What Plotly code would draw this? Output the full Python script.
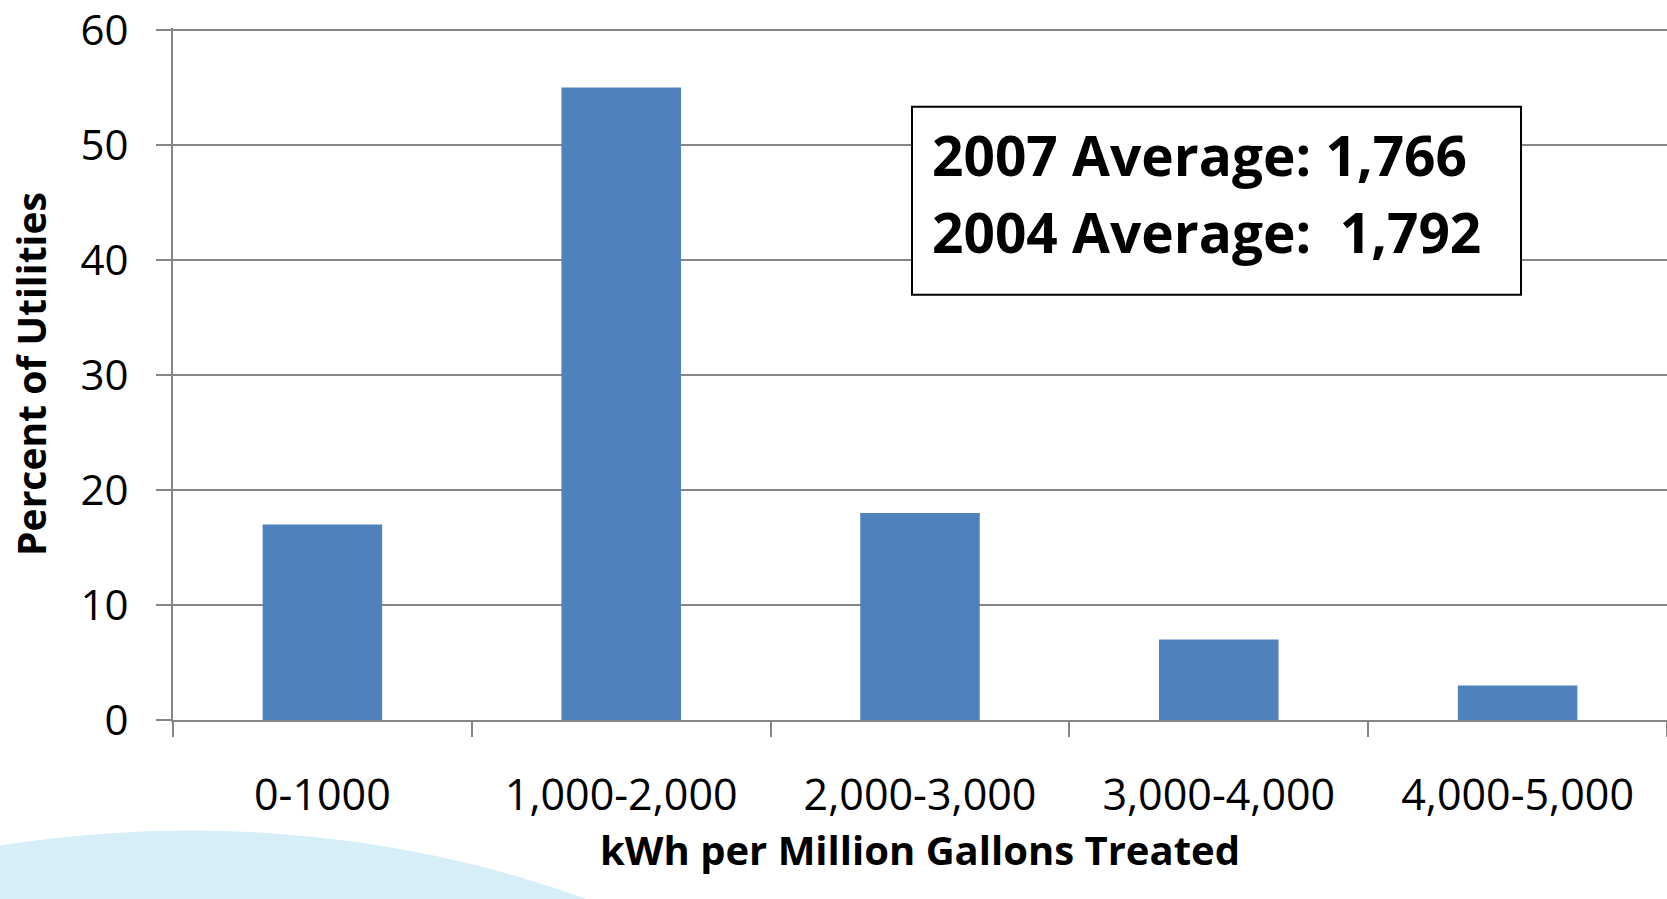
import plotly.graph_objects as go

categories = ["0-1000", "1,000-2,000", "2,000-3,000", "3,000-4,000", "4,000-5,000"]
percent_utilities = [17, 55, 18, 7, 3]
y_ticks = [0, 10, 20, 30, 40, 50, 60]
avg_lines = ["2007 Average: 1,766", "2004 Average:  1,792"]
x_title = "kWh per Million Gallons Treated"
y_title = "Percent of Utilities"

W, H = 1667, 899
L, R, T, B = 173, 0, 25, 179
pw, ph = W - L - R, H - T - B
Y_MAX = 60.17  # small headroom so the 60 gridline / label are kept

def px2paper_x(px):
    return (px - L) / pw

def px2paper_y(py):
    return (H - B - py) / ph

fig = go.Figure()
fig.add_trace(go.Bar(
    x=categories, y=percent_utilities,
    marker=dict(color="#4F81BD", line=dict(width=0)),
    width=0.4, hoverinfo="x+y",
))

font_family = "Open Sans, Lato, sans-serif"

# decorative light-blue arc at the bottom-left
cx, top, a, b = 190, 831, 852, 600
fig.add_shape(
    type="circle", xref="paper", yref="paper", layer="below",
    x0=px2paper_x(cx - a), x1=px2paper_x(cx + a),
    y0=px2paper_y(top), y1=px2paper_y(top + 2 * b),
    fillcolor="#d6eef8", line=dict(width=0),
)

# annotation box
fig.add_shape(
    type="rect", xref="paper", yref="paper", layer="above",
    x0=px2paper_x(912), x1=px2paper_x(1521),
    y0=px2paper_y(104), y1=px2paper_y(293),
    fillcolor="#ffffff", line=dict(color="#000000", width=2),
)
for line_text, cy in zip(avg_lines, [152, 229]):
    fig.add_annotation(
        xref="paper", yref="paper",
        x=px2paper_x(930), y=px2paper_y(cy), xanchor="left", yanchor="middle",
        text=line_text, align="left", showarrow=False,
        font=dict(family=font_family, size=55, color="#000000", weight="bold"),
    )

# x-axis title
fig.add_annotation(
    xref="paper", yref="paper",
    x=0.5, y=px2paper_y(850), xanchor="center", yanchor="middle",
    text=x_title, showarrow=False,
    font=dict(family=font_family, size=40, color="#000000", weight="bold"),
)

fig.update_layout(
    width=W, height=H,
    margin=dict(l=L, r=R, t=T, b=B, pad=0),
    paper_bgcolor="#ffffff", plot_bgcolor="rgba(0,0,0,0)",
    showlegend=False,
    bargap=0.6,
    font=dict(family=font_family, color="#000000"),
    xaxis=dict(
        type="category", range=[-0.5, 4.5],
        tickson="boundaries", ticks="outside", ticklen=15, tickwidth=2,
        tickcolor="#868686", showline=True, linecolor="#868686", linewidth=2,
        showgrid=False, tickfont=dict(size=43, family=font_family),
        ticklabelstandoff=36, ticklabeloverflow="allow",
        fixedrange=True,
    ),
    yaxis=dict(
        range=[0, Y_MAX], tickvals=y_ticks, ticktext=[str(v) for v in y_ticks],
        ticks="outside", ticklen=15, tickwidth=2, tickcolor="#868686",
        showline=True, linecolor="#868686", linewidth=2,
        showgrid=True, gridcolor="#868686", gridwidth=2,
        zeroline=False, tickfont=dict(size=42, family=font_family),
        ticklabelstandoff=19, ticklabeloverflow="allow",
        title=dict(text=y_title,
                   font=dict(size=39, family=font_family, weight="bold"),
                   standoff=22),
        fixedrange=True,
    ),
)

fig.write_html("out.html")
